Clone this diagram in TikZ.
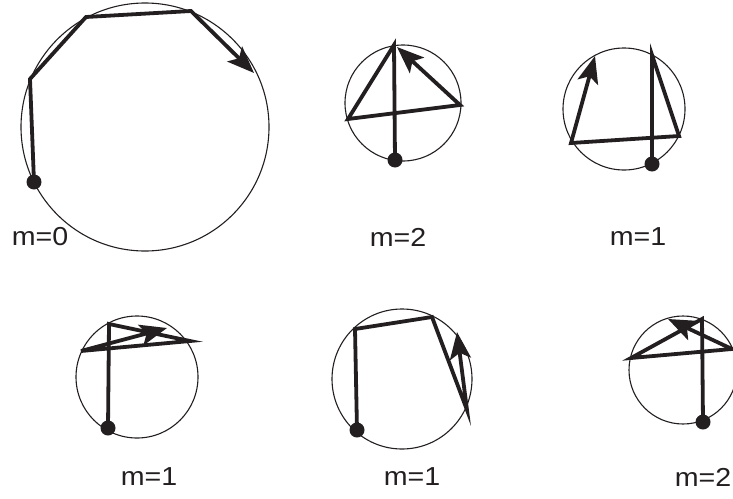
\documentclass[tikz,border=0pt]{standalone}
\usepackage{fontspec}
\setmainfont{Liberation Sans}
\usepackage{xcolor}
\usepackage{tikz}
\usetikzlibrary{arrows.meta, calc}
\definecolor{inkblack}{RGB}{35, 31, 32}

\begin{document}
\begin{tikzpicture}[x=1pt, y=-1pt,
        ring/.style={draw=inkblack, line width=1.1pt},
        walk/.style={draw=inkblack, line width=3.8pt},
        walkarrow/.style={walk, -{Stealth[length=27pt, width=21pt, inset=6pt]}},
        dot/.style={circle, fill=inkblack, inner sep=0pt, minimum size=15pt},
        mlabel/.style={text=inkblack, font=\fontsize{26}{30}\selectfont, xscale=1.1}]
        \useasboundingbox (0,0) rectangle (733,498);

        % Circle m=0 (Top left) - large
        \draw[ring] (145,127) circle (124);
        \node[dot] (s1) at (34,182) {};
        \coordinate (p1a) at (30,79);
        \coordinate (p1b) at (86,17);
        \coordinate (p1c) at (191,11);
        \coordinate (p1d) at (254,73);
        \draw[walkarrow] (s1.center) -- (p1a) -- (p1b) -- (p1c) -- (p1d);
        \node[mlabel] (m1) at (40,237) {m=0};

        % Circle m=2 (Top middle)
        \draw[ring] (403,103) circle (58);
        \node[dot] (s2) at (395,160) {};
        \coordinate (p2a) at (394,45);
        \coordinate (p2b) at (348,119);
        \coordinate (p2c) at (460,105);
        \coordinate (p2d) at (397,47);
        \draw[walkarrow] (s2.center) -- (p2a) -- (p2b) -- (p2c) -- (p2d);
        \node[mlabel] (m2) at (398,237) {m=2};

        % Circle m=1 (Top right)
        \draw[ring] (624,109) circle (61);
        \node[dot] (s3) at (652,164) {};
        \coordinate (p3a) at (652,55);
        \coordinate (p3b) at (679,136);
        \coordinate (p3c) at (571,143);
        \coordinate (p3d) at (595,56);
        \draw[walkarrow] (s3.center) -- (p3a) -- (p3b) -- (p3c) -- (p3d);
        \node[mlabel] (m3) at (638,237) {m=1};

        % Circle m=1 (Bottom left)
        \draw[ring] (137,377) circle (61);
        \node[dot] (s4) at (108,428) {};
        \coordinate (p4a) at (109,324);
        \coordinate (p4b) at (190,341);
        \coordinate (p4c) at (81,351);
        \coordinate (p4d) at (167,328);
        \draw[walkarrow] (s4.center) -- (p4a) -- (p4b) -- (p4c) -- (p4d);
        \node[mlabel] (m4) at (149,477) {m=1};

        % Circle m=1 (Bottom middle)
        \draw[ring] (402,379) circle (70);
        \node[dot] (s5) at (357,430) {};
        \coordinate (p5a) at (355,329);
        \coordinate (p5b) at (432,317);
        \coordinate (p5c) at (467,410);
        \coordinate (p5d) at (457,332);
        \draw[walkarrow] (s5.center) -- (p5a) -- (p5b) -- (p5c) -- (p5d);
        \node[mlabel] (m5) at (412,477) {m=1};

        % Circle m=2 (Bottom right) - cut by the page edge
        \draw[ring] (683,370) circle (54);
        \node[dot] (s6) at (703,422) {};
        \coordinate (p6a) at (702,319);
        \coordinate (p6b) at (631,358);
        \coordinate (p6c) at (732,349);
        \coordinate (p6d) at (668,319);
        \draw[walkarrow] (s6.center) -- (p6a) -- (p6b) -- (p6c) -- (p6d);
        \node[mlabel] (m6) at (703,477) {m=2};

    \end{tikzpicture}
\end{document}
